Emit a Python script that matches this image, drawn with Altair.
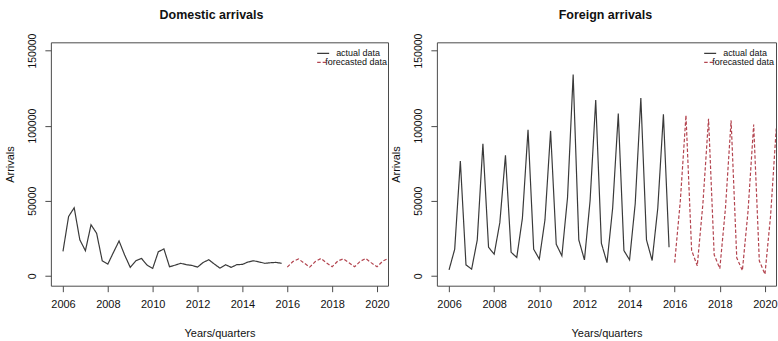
import altair as alt
import pandas as pd

# ---------------- data ----------------
series_names = ["actual data", "forecasted data"]
actual_start = 2006.0     # first quarter of the observed data
forecast_start = 2016.0   # first quarter of the forecast

dom_actual = [16300, 39500, 45300, 24000, 16700, 34000, 28300, 10000,
              7800, 15600, 23200, 13800, 5600, 10000, 11600, 7100,
              4900, 16000, 17900, 6000, 7100, 8300, 7400, 6900,
              5800, 8900, 10700, 7800, 5100, 7400, 5600, 7400,
              7600, 9200, 10000, 9200, 8300, 8700, 8900, 8300]
dom_forecast = [5800, 9500, 11200, 8500, 5800, 9500, 11500, 8600,
                6000, 9800, 11300, 8700, 6000, 9600, 11500, 8600,
                6000, 9700, 11500, 9000]

for_actual = [4000, 17700, 76500, 7300, 4400, 23900, 88000, 19000,
              14400, 35400, 80300, 15700, 12200, 38300, 97300, 17700,
              11100, 37200, 96500, 21000, 13300, 52000, 134000, 23900,
              10600, 50000, 117000, 21700, 8800, 45000, 108000, 16800,
              10600, 48000, 118400, 23900, 10200, 45000, 107500, 19000]
for_forecast = [8800, 50000, 106900, 17000, 6600, 48000, 104600, 14000,
                4800, 45000, 103500, 12000, 3500, 43000, 100700, 10000,
                1000, 40000, 98000, 9000]

x_ticks = [2006, 2008, 2010, 2012, 2014, 2016, 2018, 2020]
y_ticks = [0, 50000, 100000, 150000]
titles = ["Domestic arrivals", "Foreign arrivals"]
line_colors = ["#3a3a3a", "#b3444f"]
line_dashes = [[1, 0], [3.5, 2]]


def frame(actual, forecast):
    rows = []
    for i, v in enumerate(actual):
        rows.append({"t": actual_start + i * 0.25, "v": v, "s": series_names[0]})
    for i, v in enumerate(forecast):
        rows.append({"t": forecast_start + i * 0.25, "v": v, "s": series_names[1]})
    return pd.DataFrame(rows)


NARROW = "Liberation Sans Narrow, Liberation Sans, Arial, sans-serif"
REG = "Liberation Sans, Arial, sans-serif"
TXT = "#111111"
GREY = "#4a4a4a"


def legend_layers(lx, text_right):
    """R-style key in the top-right corner of a panel.
    The long label is right-aligned so its layout bounds stay inside the plot."""
    layers = []
    row_y = [11, 20]
    for k, name in enumerate(series_names):
        key = pd.DataFrame({"name": [name]})
        layers.append(
            alt.Chart(key).mark_rule(strokeWidth=1.2, color=line_colors[k],
                                     strokeDash=line_dashes[k]).encode(
                x=alt.value(lx), x2=alt.value(lx + 12), y=alt.value(row_y[k]))
        )
        if k == 0:
            txt = alt.Chart(key).mark_text(align="left", baseline="middle", font=NARROW,
                                           fontSize=9, color=TXT).encode(
                x=alt.value(lx + 19), y=alt.value(row_y[k]), text="name:N")
        else:
            txt = alt.Chart(key).mark_text(align="right", baseline="middle", font=NARROW,
                                           fontSize=9, color=TXT).encode(
                x=alt.value(text_right), y=alt.value(row_y[k]), text="name:N")
        layers.append(txt)
    return layers


def panel(df, title, width, legend_x, text_right, title_dx):
    x = alt.X("t:Q",
              scale=alt.Scale(domain=[2005.46, 2020.49], nice=False, zero=False),
              axis=alt.Axis(values=x_ticks, format="d", title="Years/quarters",
                            domain=False, grid=False, tickSize=6, tickColor=GREY,
                            labelFont=NARROW, labelFontSize=11, labelColor=TXT,
                            labelPadding=7, labelFlush=False,
                            titleFont=NARROW, titleFontSize=11, titleFontWeight="normal",
                            titleColor=TXT, titlePadding=18))
    y = alt.Y("v:Q",
              scale=alt.Scale(domain=[-6600, 155500], nice=False, zero=False),
              axis=alt.Axis(values=y_ticks, format="d", title="Arrivals",
                            domain=False, grid=False, tickSize=6, tickColor=GREY,
                            labelFont=REG, labelFontSize=10.5, labelColor=TXT,
                            labelAngle=270, labelAlign="center", labelBaseline="bottom",
                            labelPadding=7, labelFlush=False,
                            titleFont=REG, titleFontSize=11, titleFontWeight="normal",
                            titleColor=TXT, titlePadding=12))
    lines = alt.Chart(df).mark_line(strokeWidth=1.2, clip=True).encode(
        x=x, y=y,
        color=alt.Color("s:N", scale=alt.Scale(domain=series_names, range=line_colors),
                        legend=None),
        strokeDash=alt.StrokeDash("s:N", scale=alt.Scale(domain=series_names,
                                                         range=line_dashes), legend=None),
    )
    return alt.layer(lines, *legend_layers(legend_x, text_right)).properties(
        width=width, height=244,
        title=alt.TitleParams(text=title, font=NARROW, fontSize=12.5, fontWeight="bold",
                              color=TXT, anchor="middle", offset=12, dx=title_dx),
    )


left = panel(frame(dom_actual, dom_forecast), titles[0], 338, 267, 337, -8)
right = panel(frame(for_actual, for_forecast), titles[1], 340, 268, 338, -1)

chart = alt.hconcat(left, right, spacing=49, bounds="flush").properties(
    padding={"left": 4, "right": 0, "top": 7, "bottom": 0},
    background="white",
).configure_view(stroke=GREY, strokeWidth=1)

chart.save("out.html", embed_options={"renderer": "svg", "actions": False})
